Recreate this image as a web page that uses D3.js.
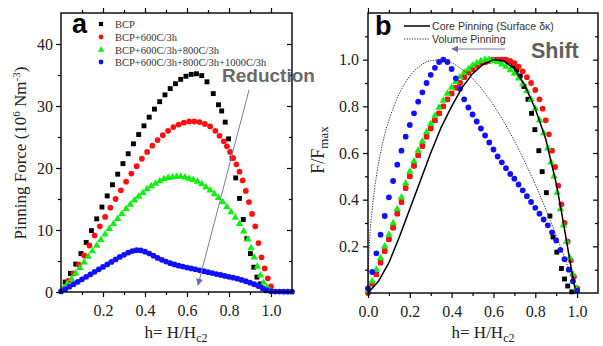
<!DOCTYPE html>
<html><head><meta charset="utf-8">
<script src="https://cdn.jsdelivr.net/npm/d3@7"></script>
<style>body{margin:0;background:#fff}svg{display:block}</style>
</head><body><svg id="c" width="603" height="346"></svg>
<script>
// ---------- DATA ----------
// Panel a: pinning force (10^6 N m^-3) vs h
const bcp = [[0.02,1.6],[0.045,3.0],[0.07,4.5],[0.095,6.2],[0.12,8.0],[0.145,9.9],[0.17,11.8],[0.195,13.7],[0.22,15.5],[0.245,17.3],[0.27,19.0],[0.295,20.7],[0.32,22.3],[0.345,23.9],[0.37,25.4],[0.395,26.8],[0.42,28.2],[0.445,29.5],[0.47,30.7],[0.495,31.8],[0.52,32.8],[0.545,33.6],[0.57,34.3],[0.595,34.8],[0.62,35.1],[0.645,35.2],[0.67,34.9],[0.695,33.9],[0.725,32.0],[0.75,30.2],[0.765,29.2],[0.782,27.4],[0.798,24.7],[0.815,21.6],[0.832,18.4],[0.85,15.1],[0.868,11.7],[0.885,8.6],[0.902,6.2],[0.918,4.0],[0.933,2.4],[0.948,1.3],[0.962,0.6],[0.977,0.2]];
const bcp600 = [[0.035,1.8],[0.06,3.0],[0.085,4.4],[0.11,5.9],[0.135,7.5],[0.16,9.1],[0.185,10.6],[0.21,12.1],[0.235,13.6],[0.26,15.0],[0.285,16.4],[0.31,17.8],[0.335,19.1],[0.36,20.3],[0.385,21.5],[0.41,22.6],[0.435,23.6],[0.46,24.5],[0.485,25.3],[0.51,26.0],[0.535,26.6],[0.56,27.0],[0.585,27.3],[0.61,27.5],[0.635,27.5],[0.66,27.4],[0.685,27.1],[0.71,26.7],[0.735,26.0],[0.755,25.2],[0.775,24.3],[0.79,23.5],[0.805,22.6],[0.82,21.6],[0.835,20.6],[0.85,19.4],[0.865,18.0],[0.88,16.3],[0.895,14.5],[0.91,12.6],[0.925,10.6],[0.94,7.9],[0.955,5.6],[0.97,3.8],[0.985,2.2],[1.0,0.9]];
const bcp800 = [[0.01,0.5],[0.03,1.3],[0.05,2.1],[0.07,3.0],[0.09,3.9],[0.11,4.8],[0.13,5.7],[0.15,6.6],[0.17,7.5],[0.19,8.4],[0.21,9.3],[0.23,10.2],[0.25,11.0],[0.27,11.8],[0.29,12.6],[0.31,13.4],[0.33,14.1],[0.35,14.8],[0.37,15.4],[0.39,16.0],[0.41,16.6],[0.43,17.1],[0.45,17.5],[0.47,17.9],[0.49,18.2],[0.51,18.4],[0.53,18.5],[0.55,18.6],[0.57,18.6],[0.59,18.5],[0.61,18.3],[0.63,18.1],[0.65,17.8],[0.67,17.4],[0.69,16.9],[0.71,16.4],[0.73,15.8],[0.75,15.2],[0.77,14.5],[0.79,13.7],[0.81,12.9],[0.83,12.0],[0.85,11.0],[0.87,9.8],[0.89,8.5],[0.905,7.1],[0.92,5.6],[0.935,4.1],[0.95,2.7],[0.965,1.5],[0.98,0.7],[0.995,0.2]];
const bcp1000 = [[0,0.1],[0.02,0.45],[0.04,0.85],[0.06,1.25],[0.08,1.65],[0.1,2.05],[0.12,2.45],[0.14,2.85],[0.16,3.25],[0.18,3.65],[0.2,4.05],[0.22,4.45],[0.24,4.85],[0.26,5.25],[0.28,5.65],[0.3,6.0],[0.32,6.35],[0.34,6.6],[0.36,6.75],[0.38,6.7],[0.4,6.5],[0.42,6.2],[0.44,5.85],[0.46,5.5],[0.48,5.2],[0.5,4.9],[0.52,4.65],[0.54,4.45],[0.56,4.25],[0.58,4.1],[0.6,3.95],[0.62,3.8],[0.64,3.65],[0.66,3.5],[0.68,3.35],[0.7,3.2],[0.72,3.05],[0.74,2.9],[0.76,2.75],[0.78,2.6],[0.8,2.45],[0.82,2.3],[0.84,2.15],[0.86,1.95],[0.88,1.75],[0.9,1.5],[0.92,1.25],[0.94,0.95],[0.96,0.6],[0.98,0.3],[1.0,0.12],[1.02,0.08],[1.04,0.07],[1.06,0.06],[1.08,0.06],[1.1,0.05]];

// Panel b: F/Fmax vs h
const nBcp = [[0.02,0.04],[0.04,0.08],[0.06,0.13],[0.08,0.18],[0.1,0.23],[0.12,0.28],[0.14,0.34],[0.16,0.39],[0.18,0.45],[0.2,0.5],[0.22,0.545],[0.24,0.59],[0.26,0.63],[0.28,0.67],[0.3,0.705],[0.32,0.74],[0.34,0.77],[0.36,0.8],[0.38,0.83],[0.4,0.855],[0.42,0.88],[0.44,0.9],[0.46,0.925],[0.48,0.945],[0.5,0.96],[0.52,0.975],[0.54,0.985],[0.56,0.99],[0.58,0.995],[0.6,1.0],[0.62,1.0],[0.645,1.0],[0.67,0.99],[0.695,0.975],[0.712,0.955],[0.728,0.93],[0.746,0.885],[0.765,0.83],[0.782,0.77],[0.798,0.7],[0.817,0.61],[0.833,0.52],[0.853,0.43],[0.87,0.33],[0.885,0.24],[0.903,0.175],[0.925,0.105],[0.94,0.06],[0.955,0.03],[0.975,0.005]];
const nBcp600 = [[0.0,0.0],[0.02,0.04],[0.04,0.08],[0.06,0.13],[0.08,0.18],[0.1,0.23],[0.12,0.28],[0.14,0.34],[0.16,0.39],[0.18,0.45],[0.2,0.5],[0.22,0.545],[0.24,0.59],[0.26,0.63],[0.28,0.67],[0.3,0.705],[0.32,0.74],[0.34,0.77],[0.36,0.8],[0.38,0.83],[0.4,0.855],[0.42,0.88],[0.44,0.9],[0.46,0.925],[0.48,0.945],[0.5,0.96],[0.52,0.975],[0.54,0.985],[0.56,0.99],[0.58,0.995],[0.6,1.0],[0.62,1.0],[0.64,1.0],[0.66,1.0],[0.68,0.995],[0.7,0.985],[0.72,0.97],[0.74,0.95],[0.76,0.925],[0.78,0.9],[0.8,0.87],[0.82,0.83],[0.835,0.79],[0.85,0.74],[0.865,0.68],[0.88,0.61],[0.895,0.54],[0.91,0.46],[0.925,0.38],[0.94,0.3],[0.955,0.22],[0.97,0.14],[0.985,0.07],[1.0,0.02]];
const nBcp800 = [[0.0,0.01],[0.02,0.05],[0.04,0.1],[0.06,0.15],[0.08,0.2],[0.1,0.25],[0.12,0.3],[0.14,0.36],[0.16,0.41],[0.18,0.47],[0.2,0.52],[0.22,0.565],[0.24,0.61],[0.26,0.65],[0.28,0.69],[0.3,0.725],[0.32,0.76],[0.34,0.795],[0.36,0.825],[0.38,0.855],[0.4,0.88],[0.42,0.905],[0.44,0.925],[0.46,0.945],[0.48,0.96],[0.5,0.975],[0.52,0.985],[0.54,0.995],[0.56,1.0],[0.58,1.0],[0.6,0.995],[0.62,0.99],[0.64,0.98],[0.66,0.97],[0.68,0.955],[0.7,0.94],[0.72,0.92],[0.74,0.895],[0.76,0.865],[0.78,0.83],[0.8,0.79],[0.82,0.74],[0.84,0.685],[0.86,0.62],[0.875,0.56],[0.89,0.5],[0.905,0.43],[0.92,0.36],[0.935,0.29],[0.95,0.22],[0.965,0.15],[0.98,0.08],[0.995,0.02]];
const nBcp1000 = [[0.0,0.02],[0.02,0.09],[0.04,0.17],[0.06,0.25],[0.08,0.33],[0.1,0.41],[0.12,0.48],[0.14,0.55],[0.16,0.61],[0.18,0.67],[0.2,0.72],[0.22,0.77],[0.24,0.82],[0.26,0.86],[0.28,0.9],[0.3,0.935],[0.32,0.965],[0.34,0.99],[0.36,1.0],[0.38,0.99],[0.4,0.96],[0.42,0.92],[0.44,0.875],[0.46,0.83],[0.48,0.795],[0.5,0.765],[0.52,0.735],[0.54,0.705],[0.56,0.675],[0.58,0.645],[0.6,0.615],[0.62,0.585],[0.64,0.56],[0.66,0.535],[0.68,0.51],[0.7,0.49],[0.72,0.465],[0.74,0.44],[0.76,0.415],[0.78,0.39],[0.8,0.365],[0.82,0.34],[0.84,0.315],[0.86,0.29],[0.88,0.26],[0.9,0.225],[0.92,0.185],[0.94,0.145],[0.96,0.1],[0.98,0.05],[1.0,0.01]];
const corePinning = [[0,0],[0.05,0.05],[0.1,0.13],[0.15,0.24],[0.2,0.36],[0.25,0.48],[0.3,0.6],[0.35,0.71],[0.4,0.8],[0.45,0.88],[0.5,0.94],[0.55,0.98],[0.6,1.0],[0.65,0.995],[0.7,0.96],[0.75,0.89],[0.8,0.79],[0.85,0.66],[0.9,0.47],[0.925,0.35],[0.95,0.22],[0.975,0.09],[0.99,0.02]];
const volumePinning = [[0,0],[0.005,0.18],[0.01,0.26],[0.02,0.36],[0.04,0.5],[0.06,0.6],[0.08,0.68],[0.1,0.74],[0.15,0.855],[0.2,0.93],[0.25,0.974],[0.3,0.996],[0.35,0.999],[0.4,0.986],[0.45,0.958],[0.5,0.919],[0.55,0.867],[0.6,0.805],[0.65,0.733],[0.7,0.652],[0.75,0.562],[0.8,0.465],[0.85,0.359],[0.9,0.246],[0.95,0.127],[1.0,0]];

// tick labels
const leftXMajor = [0.2,0.4,0.6,0.8,1.0];
const leftXMinor = [0.1,0.3,0.5,0.7,0.9];
const leftYMajor = [0,10,20,30,40];
const leftYMinor = [5,15,25,35];
const rightXMajor = [0.0,0.2,0.4,0.6,0.8,1.0];
const rightXMinor = [0.1,0.3,0.5,0.7,0.9];
const rightYMajor = [0.2,0.4,0.6,0.8,1.0];
const rightYMinor = [0.1,0.3,0.5,0.7,0.9,1.1];
const seriesNames = ["BCP","BCP+600C/3h","BCP+600C/3h+800C/3h","BCP+600C/3h+800C/3h+1000C/3h"];
const modelNames = ["Core Pinning (Surface δκ)","Volume Pinning"];

// ---------- STYLE ----------
const colors = ["#000000","#ff1010","#10f010","#1010ff"];
const shapes = [d3.symbolSquare, d3.symbolCircle, d3.symbolTriangle, d3.symbolCircle];
const sizes = [24, 26, 24, 26];
const serif = "'Liberation Serif','Times New Roman',serif";
const sans = "'Liberation Sans',Arial,sans-serif";

const svg = d3.select('#c');

function drawAxes(g, x, y, xMaj, xMin, yMaj, yMin, xFmt, yFmt, yPad) {
  const [x0, x1] = x.range();
  const [y0, y1] = y.range();
  const st = sel => {
    sel.select('.domain').remove();
    sel.selectAll('.tick line').attr('stroke', '#000').attr('stroke-width', 1.2);
    sel.selectAll('.tick text').attr('font-family', serif).attr('font-size', 16).attr('fill', '#222');
  };
  g.append('g').attr('transform', `translate(0,${y0})`)
    .call(d3.axisBottom(x).tickValues(xMaj).tickSize(5).tickPadding(8).tickFormat(xFmt)).call(st);
  g.append('g').attr('transform', `translate(0,${y0})`)
    .call(d3.axisBottom(x).tickValues(xMin).tickSize(3).tickFormat('')).call(st);
  g.append('g').attr('transform', `translate(0,${y1})`)
    .call(d3.axisTop(x).tickValues(xMaj).tickSize(5).tickFormat('')).call(st);
  g.append('g').attr('transform', `translate(0,${y1})`)
    .call(d3.axisTop(x).tickValues(xMin).tickSize(3).tickFormat('')).call(st);
  g.append('g').attr('transform', `translate(${x0},0)`)
    .call(d3.axisLeft(y).tickValues(yMaj).tickSize(5).tickPadding(yPad).tickFormat(yFmt)).call(st);
  g.append('g').attr('transform', `translate(${x0},0)`)
    .call(d3.axisLeft(y).tickValues(yMin).tickSize(3).tickFormat('')).call(st);
  g.append('g').attr('transform', `translate(${x1},0)`)
    .call(d3.axisLeft(y).tickValues(yMaj).tickSize(5).tickFormat('')).call(st);
  g.append('g').attr('transform', `translate(${x1},0)`)
    .call(d3.axisLeft(y).tickValues(yMin).tickSize(3).tickFormat('')).call(st);
  g.append('rect').attr('x', x0).attr('y', y1).attr('width', x1 - x0).attr('height', y0 - y1)
    .attr('fill', 'none').attr('stroke', '#000').attr('stroke-width', 1.4);
}

function drawSeries(g, x, y, list) {
  list.forEach((data, i) => {
    g.append('g').selectAll('path').data(data).join('path')
      .attr('d', d3.symbol().type(shapes[i]).size(sizes[i])())
      .attr('transform', d => `translate(${x(d[0])},${y(d[1])})`)
      .attr('fill', colors[i]);
  });
}

function xTitle(g, cx) {
  const t = g.append('text').attr('x', cx).attr('y', 338).attr('text-anchor', 'middle')
    .attr('font-family', serif).attr('font-size', 17).attr('fill', '#222');
  t.append('tspan').text('h= H/H');
  t.append('tspan').attr('dy', 4).attr('font-size', 12).text('c2');
}

// defs: arrowhead
const defs = svg.append('defs');
defs.append('marker').attr('id', 'ah').attr('viewBox', '0 0 10 10').attr('refX', 9).attr('refY', 5)
  .attr('markerWidth', 7).attr('markerHeight', 7).attr('markerUnits', 'userSpaceOnUse').attr('orient', 'auto')
  .append('path').attr('d', 'M0,0 L10,5 L0,10 Z').attr('fill', '#6c6ca8');

// ---------- PANEL A ----------
const xa = d3.scaleLinear().domain([0, 1.1]).range([61, 292]);
const ya = d3.scaleLinear().domain([0, 45]).range([292, 13]);
const ga = svg.append('g');
drawSeries(ga, xa, ya, [bcp, bcp600, bcp800, bcp1000]);
drawAxes(ga, xa, ya, leftXMajor, leftXMinor, leftYMajor, leftYMinor, d3.format('.1f'), d3.format('d'), 3);
xTitle(ga, 176);
{
  const t = ga.append('text').attr('transform', 'translate(26,153) rotate(-90)').attr('text-anchor', 'middle')
    .attr('font-family', serif).attr('font-size', 17).attr('fill', '#222');
  t.append('tspan').text('Pinning Force (10');
  t.append('tspan').attr('dy', -6).attr('font-size', 11).text('6');
  t.append('tspan').attr('dy', 6).text(' Nm');
  t.append('tspan').attr('dy', -6).attr('font-size', 11).text('-3');
  t.append('tspan').attr('dy', 6).text(')');
}
// legend a
const legY = [24, 37, 50, 62];
seriesNames.forEach((n, i) => {
  ga.append('path').attr('d', d3.symbol().type(shapes[i]).size(18)())
    .attr('transform', `translate(101,${legY[i]})`).attr('fill', colors[i]);
  ga.append('text').attr('x', 115).attr('y', legY[i] + 3.8).attr('font-family', serif)
    .attr('font-size', 10.5).attr('fill', '#333').text(n);
});
ga.append('text').attr('x', 72).attr('y', 33).attr('font-family', sans).attr('font-weight', 'bold')
  .attr('font-size', 27).attr('fill', '#000').text('a');
ga.append('line').attr('x1', 249).attr('y1', 90).attr('x2', 198).attr('y2', 285)
  .attr('stroke', '#7a7aa8').attr('stroke-width', 1).attr('marker-end', 'url(#ah)');
ga.append('text').attr('x', 222).attr('y', 82).attr('font-family', sans).attr('font-weight', 'bold')
  .attr('font-size', 19).attr('fill', '#6a6a6a').text('Reduction');

// ---------- PANEL B ----------
const xb = d3.scaleLinear().domain([0, 1.1]).range([368, 598]);
const yb = d3.scaleLinear().domain([0, 1.2]).range([293, 13]);
const gb = svg.append('g');
drawSeries(gb, xb, yb, [nBcp, nBcp600, nBcp800, nBcp1000]);
gb.append('path').datum(volumePinning)
  .attr('d', d3.line().x(d => xb(d[0])).y(d => yb(d[1])).curve(d3.curveMonotoneX))
  .attr('fill', 'none').attr('stroke', '#333').attr('stroke-width', 1).attr('stroke-dasharray', '1.3,1.3');
gb.append('path').datum(corePinning)
  .attr('d', d3.line().x(d => xb(d[0])).y(d => yb(d[1])))
  .attr('fill', 'none').attr('stroke', '#000').attr('stroke-width', 1.5);
drawAxes(gb, xb, yb, rightXMajor, rightXMinor, rightYMajor, rightYMinor, d3.format('.1f'), d3.format('.1f'), 4);
xTitle(gb, 483);
{
  const t = gb.append('text').attr('transform', 'translate(324,150) rotate(-90)').attr('text-anchor', 'middle')
    .attr('font-family', serif).attr('font-size', 18).attr('fill', '#222');
  t.append('tspan').text('F/F');
  t.append('tspan').attr('dy', 4).attr('font-size', 13).text('max');
}
// legend b
gb.append('line').attr('x1', 404).attr('x2', 430).attr('y1', 26).attr('y2', 26).attr('stroke', '#000').attr('stroke-width', 1.5);
gb.append('line').attr('x1', 404).attr('x2', 430).attr('y1', 39).attr('y2', 39).attr('stroke', '#333').attr('stroke-width', 1).attr('stroke-dasharray', '1.3,1.3');
modelNames.forEach((n, i) => {
  gb.append('text').attr('x', 432).attr('y', 30 + i * 13).attr('font-family', sans)
    .attr('font-size', 10.6).attr('fill', '#333').text(n);
});
gb.append('text').attr('x', 375).attr('y', 35).attr('font-family', sans).attr('font-weight', 'bold')
  .attr('font-size', 27).attr('fill', '#000').text('b');
gb.append('line').attr('x1', 505).attr('y1', 49).attr('x2', 452).attr('y2', 49)
  .attr('stroke', '#7a7aa8').attr('stroke-width', 1.2).attr('marker-end', 'url(#ah)');
gb.append('text').attr('x', 531).attr('y', 58).attr('font-family', sans).attr('font-weight', 'bold')
  .attr('font-size', 21.5).attr('fill', '#606060').text('Shift');
</script></body></html>
